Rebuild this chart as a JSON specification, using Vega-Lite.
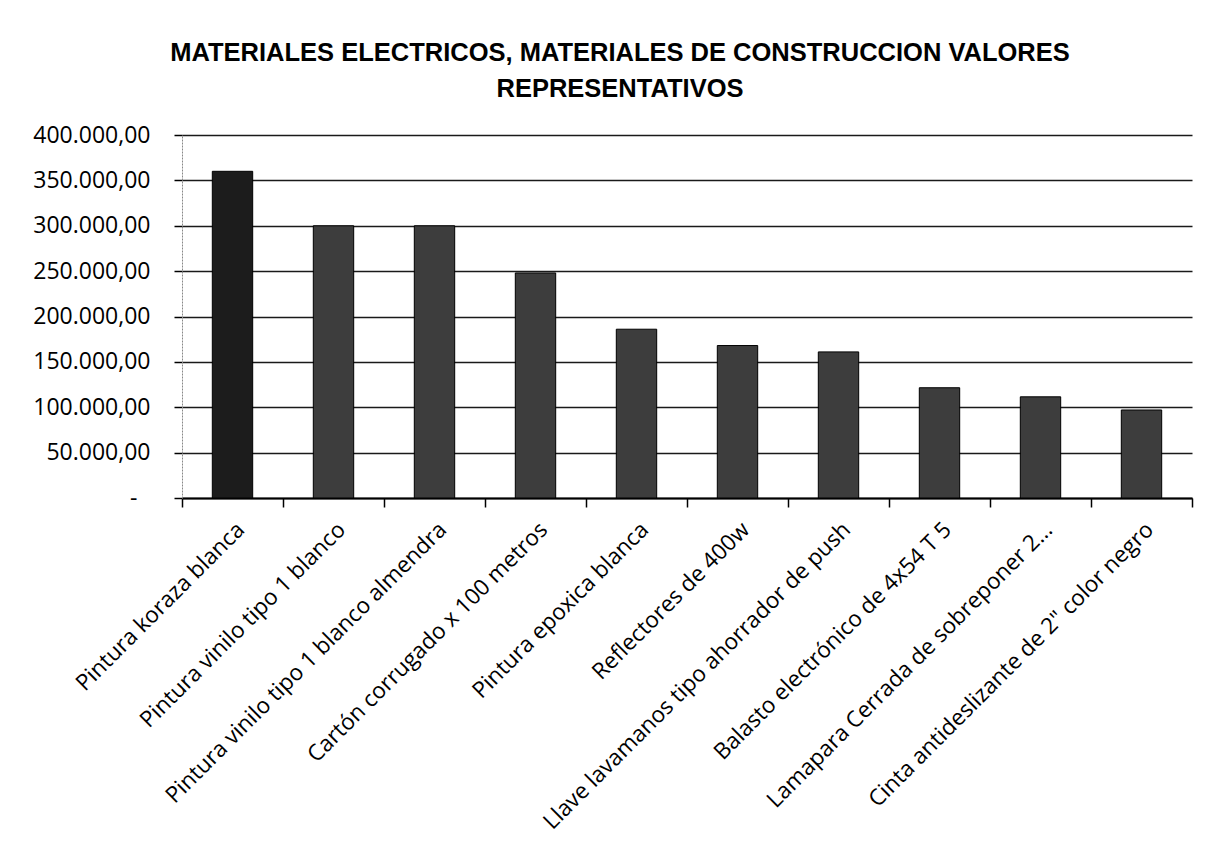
{
  "$schema": "https://vega.github.io/schema/vega-lite/v6.json",
  "width": 1010,
  "height": 363,
  "autosize": {"type": "none"},
  "padding": {"left": 182, "top": 135, "right": 15, "bottom": 363},
  "background": "white",
  "title": {
    "text": ["MATERIALES ELECTRICOS, MATERIALES DE CONSTRUCCION  VALORES", "REPRESENTATIVOS"],
    "font": "Liberation Sans",
    "fontSize": 25.5,
    "fontWeight": "bold",
    "color": "#000000",
    "anchor": "middle",
    "dx": -67,
    "offset": 22,
    "lineHeight": 36
  },
  "config": {
    "locale": {"number": {"decimal": ",", "thousands": ".", "grouping": [3], "currency": ["", ""]}},
    "view": {"stroke": null}
  },
  "data": {
    "values": [
      {"item": "Pintura koraza blanca", "valor": 360000},
      {"item": "Pintura vinilo tipo 1  blanco", "valor": 300000},
      {"item": "Pintura vinilo tipo 1  blanco almendra", "valor": 300000},
      {"item": "Cartón corrugado x 100 metros", "valor": 248000},
      {"item": "Pintura epoxica blanca", "valor": 186000},
      {"item": "Reflectores de 400w", "valor": 168000},
      {"item": "Llave lavamanos tipo ahorrador de push", "valor": 161000},
      {"item": "Balasto electrónico de 4x54 T 5", "valor": 121500},
      {"item": "Lamapara Cerrada de sobreponer 2...", "valor": 111500},
      {"item": "Cinta antideslizante de 2\" color negro", "valor": 97000}
    ]
  },
  "mark": {"type": "bar", "stroke": "#000000", "strokeWidth": 1, "width": {"band": 0.4}},
  "encoding": {
    "x": {
      "field": "item",
      "type": "nominal",
      "sort": null,
      "scale": {"paddingInner": 0, "paddingOuter": 0},
      "axis": {
        "title": null,
        "labelAngle": -45,
        "labelFont": "Open Sans",
        "labelFontSize": 22.5,
        "labelColor": "#000000",
        "labelLimit": 0,
        "labelPadding": 11,
        "tickBand": "extent",
        "tickSize": 9,
        "tickColor": "#000000",
        "tickWidth": 1.5,
        "domainColor": "#000000",
        "domainWidth": 2,
        "grid": false
      }
    },
    "y": {
      "field": "valor",
      "type": "quantitative",
      "scale": {"domain": [0, 400000], "nice": false},
      "axis": {
        "title": null,
        "values": [0, 50000, 100000, 150000, 200000, 250000, 300000, 350000, 400000],
        "format": ",.2f",
        "labelExpr": "datum.value == 0 ? '-' : datum.label",
        "labelFont": "Open Sans",
        "labelFontSize": 23,
        "labelColor": "#000000",
        "labelPadding": {"condition": {"test": "datum.value == 0", "value": 37}, "value": 24},
        "tickSize": 8,
        "tickColor": "#000000",
        "tickWidth": 1.5,
        "domainColor": "#888888",
        "domainWidth": 1,
        "domainDash": [2, 1],
        "grid": true,
        "gridColor": "#1a1a1a",
        "gridWidth": 1.6
      }
    },
    "color": {
      "condition": {"test": "datum.item == 'Pintura koraza blanca'", "value": "#1c1c1c"},
      "value": "#3d3d3d"
    }
  }
}
